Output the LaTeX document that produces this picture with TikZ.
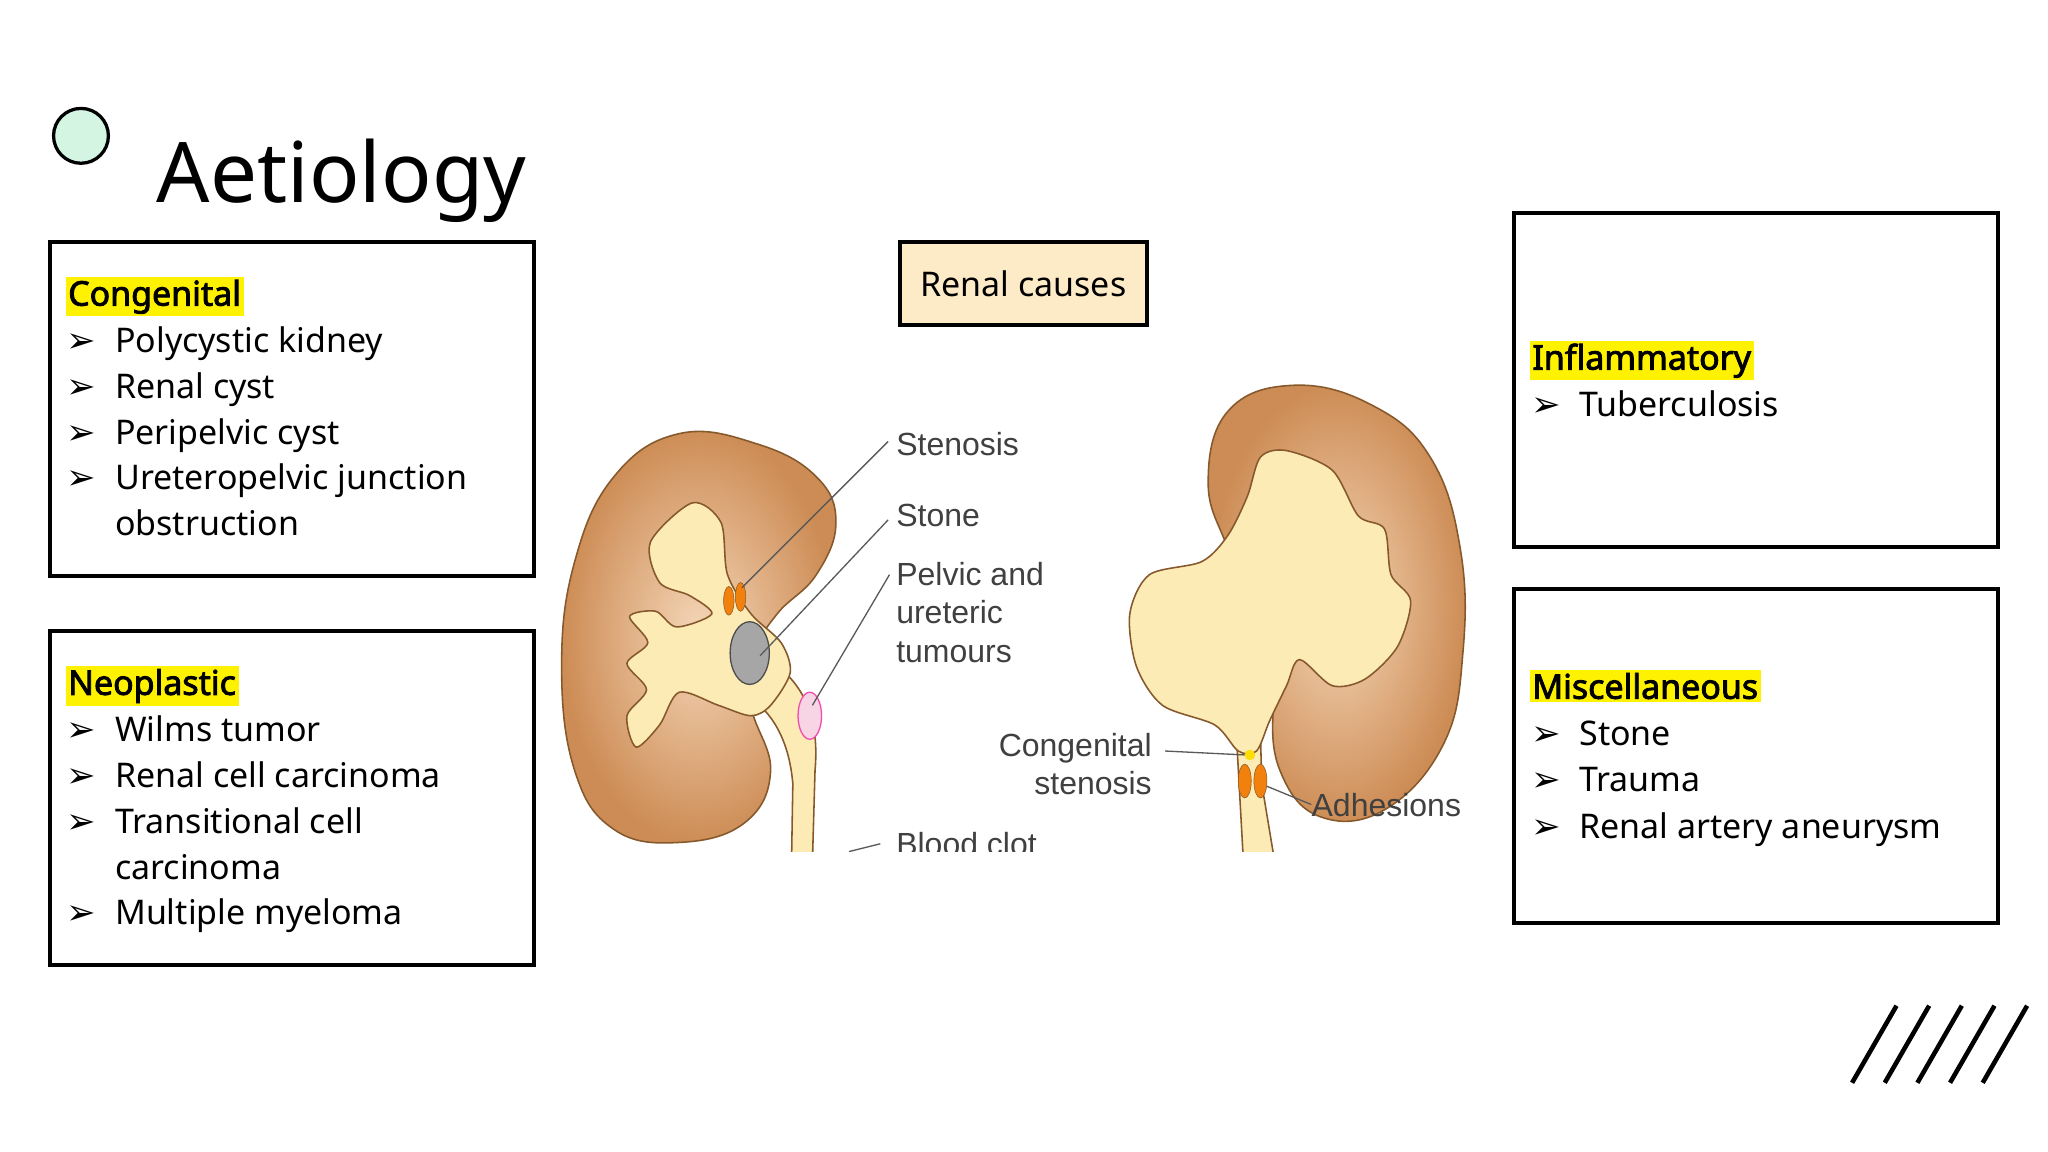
\documentclass[tikz,border=0pt]{standalone}
\usepackage{fontspec}
\setmainfont{Noto Sans}
\newfontfamily\hb{Noto Sans}[AutoFakeBold=2.5]
\newfontfamily\dv{DejaVu Sans}
\newfontfamily\lab{Liberation Sans}
\definecolor{mint}{RGB}{213,245,227}
\definecolor{kout}{RGB}{205,140,85}
\definecolor{kin}{RGB}{245,215,185}
\definecolor{pelc}{RGB}{252,235,180}
\definecolor{pinkc}{RGB}{247,213,229}
\definecolor{peach}{RGB}{253,235,200}
\begin{document}
\begin{tikzpicture}[x=1pt,y=-1pt,
  box/.style={draw=black,line width=3pt},
  head/.style={fill=yellow,inner sep=2pt,anchor=base west,font=\fontsize{26}{30}\hb\bfseries},
  item/.style={inner sep=0pt,anchor=base west,font=\fontsize{26}{30}\selectfont},
  bul/.style={inner sep=0pt,anchor=base west,font=\fontsize{27}{30}\dv},
  lbl/.style={inner sep=0pt,text=black!75,font=\fontsize{24.5}{29.5}\lab},
  ln/.style={draw=black!65,line width=1pt},
  kid/.style={draw=brown!70!black,line width=1.2pt,inner color=kin,outer color=kout},
  pel/.style={draw=brown!70!black,line width=1.2pt,fill=pelc}]
\useasboundingbox (0,0) rectangle (1568,882);
\fill[white] (0,0) rectangle (1568,882);
% title
\node[circle,draw=black,line width=2.5pt,fill=mint,minimum size=42pt,inner sep=0pt] (dot) at (62,104) {};
\node[inner sep=0pt,anchor=base west,font=\fontsize{64}{76}\selectfont] (title) at (120,155) {Aetiology};
% boxes
\draw[box] (38,185) rectangle (409,441);
\draw[box] (38,483) rectangle (409,739);
\draw[box] (1159,163) rectangle (1530,419);
\draw[box] (1159,451) rectangle (1530,707);
% box 1
\node[head] (h1) at (50,234) {Congenital};
\foreach \y/\t in {270/Polycystic kidney,305/Renal cyst,340/Peripelvic cyst,375/Ureteropelvic junction}{
  \node[bul] at (51,\y) {➢}; \node[item] at (88,\y) {\t};}
\node[item] (o1) at (88,410) {obstruction};
% box 2
\node[head] (h2) at (50,532) {Neoplastic};
\foreach \y/\t in {568/Wilms tumor,603/Renal cell carcinoma,638/Transitional cell,708/Multiple myeloma}{
  \node[bul] at (51,\y) {➢}; \node[item] at (88,\y) {\t};}
\node[item] (o2) at (88,673) {carcinoma};
% box 3
\node[head] (h3) at (1171,283) {Inflammatory};
\node[bul] at (1172,319) {➢}; \node[item] (t3) at (1209,319) {Tuberculosis};
% box 4
\node[head] (h4) at (1171,535) {Miscellaneous};
\foreach \y/\t in {571/Stone,606/Trauma,642/Renal artery aneurysm}{
  \node[bul] at (1172,\y) {➢}; \node[item] at (1209,\y) {\t};}
% renal causes
\node[draw=black,line width=3pt,fill=peach,minimum width=189pt,minimum height=64pt,font=\fontsize{26}{30}\selectfont] (rc) at (783.5,217) {Renal causes};
% slashes
\foreach \i in {0,...,4}{\draw[line width=3.5pt] (1418+25*\i,829) -- (1452+25*\i,770);}
% illustration
\begin{scope}
\clip (420,280) rectangle (1140,652);
% left kidney
\path[kid] plot[smooth cycle,tension=0.7] coordinates {(520,332) (580,340) (625,365) (640,400) (625,440) (595,470) (578,500) (575,540) (590,590) (570,630) (520,645) (470,635) (440,590) (430,510) (440,430) (470,365)};
\path[pel] (588,505) .. controls (612,520) and (628,545) .. (624,590) -- (622,660) -- (606,660) -- (607,600) .. controls (604,565) and (590,545) .. (575,535) -- cycle;
\path[pel] plot[smooth cycle,tension=0.5] coordinates {(530,385) (552,400) (557,440) (575,470) (598,492) (605,515) (590,540) (575,548) (550,540) (520,530) (505,555) (487,572) (480,548) (495,528) (480,508) (496,492) (482,472) (502,468) (518,480) (545,470) (528,456) (505,446) (498,415)};
\fill[pinkc,draw=magenta!70,line width=1pt] (620,548) ellipse (9 and 18);
\fill[gray!70,draw=black!70,line width=1pt] (574,500) ellipse (15 and 24);
\fill[orange!80!brown,draw=brown!70!black] (558,460) ellipse (4 and 11);
\fill[orange!80!brown,draw=brown!70!black] (567,457) ellipse (4 and 11);
% right kidney
\path[kid] plot[smooth cycle,tension=0.7] coordinates {(990,295) (1050,310) (1095,350) (1118,420) (1120,500) (1105,570) (1060,620) (1010,625) (980,590) (975,540) (985,505) (960,470) (940,420) (925,370) (940,315)};
\path[pel] (947,570) -- (952,660) -- (976,660) -- (966,600) -- (965,560) -- cycle;
\path[pel] plot[smooth cycle,tension=0.5] coordinates {(985,345) (1020,360) (1040,395) (1060,405) (1065,440) (1080,460) (1070,495) (1045,520) (1020,525) (995,505) (985,525) (972,552) (962,575) (948,575) (930,555) (890,540) (870,510) (865,470) (880,440) (920,430) (940,410) (955,380) (965,350)};
\fill[yellow!80!orange] (957,578) circle (4);
\fill[orange!80!brown,draw=brown!70!black] (953,598) ellipse (5 and 13);
\fill[orange!80!brown,draw=brown!70!black] (965,598) ellipse (5 and 13);
% labels
\node[lbl,anchor=west] (sten) at (686,340) {Stenosis};
\node[lbl,anchor=west] (stone) at (686,395) {Stone};
\node[lbl,anchor=north west,align=left] (pel) at (686,430) {Pelvic and\\ureteric\\tumours};
\node[lbl,anchor=west] (clot) at (686,646) {Blood clot};
\node[lbl,anchor=east,align=right] (cong) at (882,585) {Congenital\\stenosis};
\node[lbl,anchor=west] (adh) at (1004,616) {Adhesions};
\coordinate (c1) at (568,450); \coordinate (c2) at (582,502); \coordinate (c3) at (622,540);
\coordinate (c4) at (650,652); \coordinate (c5) at (953,578); \coordinate (c6) at (970,602);
\draw[ln] (c1) -- (680,338);
\draw[ln] (c2) -- (680,398);
\draw[ln] (c3) -- (681,440);
\draw[ln] (c4) -- (674,646);
\draw[ln] (892,575) -- (c5);
\draw[ln] (c6) -- (adh.west);
\end{scope}
\end{tikzpicture}
\end{document}
